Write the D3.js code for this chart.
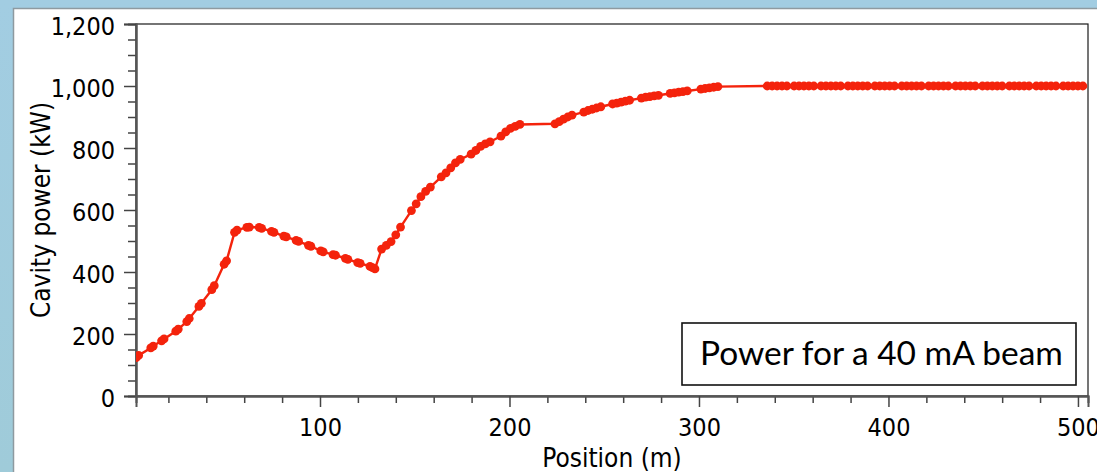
<!DOCTYPE html>
<html>
<head>
<meta charset="utf-8">
<script src="https://cdn.jsdelivr.net/npm/d3@7"></script>
<style>
  html, body { margin: 0; padding: 0; background: #a6d0e4; }
  svg { display: block; }
  .tick text, .axis-title { font-family: "DejaVu Sans Condensed", "DejaVu Sans", sans-serif; font-stretch: condensed; fill: #000; }
</style>
</head>
<body>
<svg id="chart" width="1097" height="472"></svg>
<script>
// ---------------- DATA ----------------
const positions = [
  // low-energy section (cavity pairs)
  3, 4.3, 10.7, 12, 16.4, 17.7, 23.9, 25.2, 29.7, 31, 36.1, 37.4, 42.9, 44.2, 49.4, 50.7,
  54.9, 56.2, 61.4, 62.7, 67.9, 69.2, 74.4, 75.7, 80.9, 82.2, 87.4, 88.7, 93.9, 95.2,
  100.4, 101.7, 106.9, 108.2, 113.4, 114.7, 119.9, 121.2, 126.4, 127.7, 129,
  // medium-beta section
  132.5, 135, 137.5, 140, 142.5,
  148.25, 150.75, 153.25, 155.75, 158.25,
  164, 166.5, 169, 171.5, 174,
  179.75, 182.25, 184.75, 187.25, 189.75,
  195.5, 198, 200.5, 203, 205.5,
  // high-beta section
  224, 226.25, 228.5, 230.75, 233,
  239.2, 241.45, 243.7, 245.95, 248.2,
  254.4, 256.65, 258.9, 261.15, 263.4,
  269.6, 271.85, 274.1, 276.35, 278.6,
  284.8, 287.05, 289.3, 291.55, 293.8,
  301, 303.25, 305.5, 307.75, 310,
  // saturated section
  336, 338.6, 341.2, 343.8, 346.4,
  350.2, 352.8, 355.4, 358, 360.6,
  364.4, 367, 369.6, 372.2, 374.8,
  378.6, 381.2, 383.8, 386.4, 389,
  392.8, 395.4, 398, 400.6, 403.2,
  407, 409.6, 412.2, 414.8, 417.4,
  421.2, 423.8, 426.4, 429, 431.6,
  435.4, 438, 440.6, 443.2, 445.8,
  449.6, 452.2, 454.8, 457.4, 460,
  463.8, 466.4, 469, 471.6, 474.2,
  478, 480.6, 483.2, 485.8, 488.4,
  492.2, 494.8, 497.4, 500, 502.6
];
const power = [
  124, 131, 155, 161, 178, 184, 209, 216, 240, 250, 289, 299, 343, 356, 425, 436,
  528, 535, 544, 545, 544, 541, 531, 528, 516, 513, 502, 499, 486, 483,
  468, 465, 456, 454, 444, 441, 430, 428, 418, 414, 410,
  474, 486, 498, 520, 545,
  598, 620, 643, 660, 674,
  707, 720, 736, 752, 763,
  780, 792, 805, 813, 820,
  838, 852, 863, 870, 876,
  878, 885, 893, 900, 906,
  916, 921, 925, 929, 933,
  942, 945, 948, 951, 954,
  961, 964, 966, 968, 970,
  976, 978, 980, 982, 984,
  990, 992, 994, 996, 998,
  1000, 1000, 1000, 1000, 1000,
  1000, 1000, 1000, 1000, 1000,
  1000, 1000, 1000, 1000, 1000,
  1000, 1000, 1000, 1000, 1000,
  1000, 1000, 1000, 1000, 1000,
  1000, 1000, 1000, 1000, 1000,
  1000, 1000, 1000, 1000, 1000,
  1000, 1000, 1000, 1000, 1000,
  1000, 1000, 1000, 1000, 1000,
  1000, 1000, 1000, 1000, 1000,
  1000, 1000, 1000, 1000, 1000,
  1000, 1000, 1000, 1000, 1000
];
const xMajorTicks = [100, 200, 300, 400, 500];
const xMinorTicks = [20, 40, 60, 80, 120, 140, 160, 180, 220, 240, 260, 280, 320, 340, 360, 380, 420, 440, 460, 480];
const yMajorTicks = [0, 200, 400, 600, 800, 1000, 1200];
const yMinorTicks = [50, 100, 150, 250, 300, 350, 450, 500, 550, 650, 700, 750, 850, 900, 950, 1050, 1100, 1150];
const xTitle = "Position (m)";
const yTitle = "Cavity power (kW)";
const noteText = "Power for a 40 mA beam";

// ---------------- LAYOUT ----------------
const W = 1097, H = 472;
const plot = { left: 136, top: 24, right: 1088, bottom: 396 };
const red = "#f4230c";

const svg = d3.select("#chart");
const defs = svg.append("defs");

const bg = defs.append("linearGradient").attr("id", "bg").attr("x1", 0).attr("y1", 0).attr("x2", 0).attr("y2", 1);
bg.append("stop").attr("offset", "0%").attr("stop-color", "#a2cde2");
bg.append("stop").attr("offset", "100%").attr("stop-color", "#9fcbd9");
svg.append("rect").attr("width", W).attr("height", H).attr("fill", "url(#bg)");

// white slide panel
svg.append("rect").attr("x", 13.5).attr("y", 8.5).attr("width", W).attr("height", H)
  .attr("fill", "#ffffff").attr("stroke", "#8e9aa0").attr("stroke-width", 1.5);

const x = d3.scaleLinear().domain([2.9, 505.3]).range([plot.left, plot.right]);
const y = d3.scaleLinear().domain([0, 1200]).range([plot.bottom, plot.top]);

// plot frame
svg.append("rect").attr("x", plot.left).attr("y", plot.top)
  .attr("width", plot.right - plot.left).attr("height", plot.bottom - plot.top)
  .attr("fill", "#fff").attr("stroke", "#1a1a1a").attr("stroke-width", 1.2);

defs.append("clipPath").attr("id", "clip").append("rect")
  .attr("x", plot.left).attr("y", plot.top)
  .attr("width", plot.right - plot.left).attr("height", plot.bottom - plot.top);

// axes
function styleAxis(g) {
  g.select(".domain").attr("stroke", "#555").attr("stroke-width", 2);
  g.selectAll(".tick line").attr("stroke", "#444").attr("stroke-width", 1.5);
}
const yMinor = svg.append("g").attr("transform", `translate(${plot.left},0)`)
  .call(d3.axisLeft(y).tickValues(yMinorTicks).tickSize(8).tickFormat(""));
styleAxis(yMinor);
const yMajor = svg.append("g").attr("transform", `translate(${plot.left},0)`)
  .call(d3.axisLeft(y).tickValues(yMajorTicks).tickSize(12).tickPadding(9).tickFormat(d3.format(",")));
styleAxis(yMajor);
yMajor.selectAll(".tick text").attr("font-size", 25).attr("dy", "0.4em");

const xMinor = svg.append("g").attr("transform", `translate(0,${plot.bottom})`)
  .call(d3.axisBottom(x).tickValues(xMinorTicks).tickSize(7).tickFormat(""));
styleAxis(xMinor);
const xMajor = svg.append("g").attr("transform", `translate(0,${plot.bottom})`)
  .call(d3.axisBottom(x).tickValues(xMajorTicks).tickSize(11).tickFormat(d3.format("d")));
styleAxis(xMajor);
xMajor.selectAll(".tick text").attr("font-size", 25).attr("y", 40).attr("dy", 0);

// titles
svg.append("text").attr("class", "axis-title")
  .attr("x", (plot.left + plot.right) / 2).attr("y", 467)
  .attr("text-anchor", "middle").attr("font-size", 26).text(xTitle);
svg.append("text").attr("class", "axis-title")
  .attr("transform", `translate(50,${(plot.top + plot.bottom) / 2}) rotate(-90)`)
  .attr("text-anchor", "middle").attr("font-size", 26).text(yTitle);

// data
const data = positions.map((p, i) => ({ x: p, y: power[i] }));
const g = svg.append("g").attr("clip-path", "url(#clip)");
g.append("path").datum(data)
  .attr("fill", "none").attr("stroke", red).attr("stroke-width", 2.4).attr("stroke-linejoin", "round")
  .attr("d", d3.line().x(d => x(d.x)).y(d => y(d.y)));
g.selectAll("circle").data(data).join("circle")
  .attr("cx", d => x(d.x)).attr("cy", d => y(d.y)).attr("r", 4.4).attr("fill", red);

// annotation box
svg.append("rect").attr("x", 682).attr("y", 323).attr("width", 394).attr("height", 62)
  .attr("fill", "#fff").attr("stroke", "#111").attr("stroke-width", 1.6);
const note = svg.append("text").attr("x", 700).attr("y", 365)
  .attr("font-family", "Lato, 'Open Sans', sans-serif").attr("font-size", 31).attr("fill", "#000")
  .text(noteText);
const len = note.node().getComputedTextLength();
if (len > 0) note.attr("font-size", 31 * 363 / len);
</script>
</body>
</html>
